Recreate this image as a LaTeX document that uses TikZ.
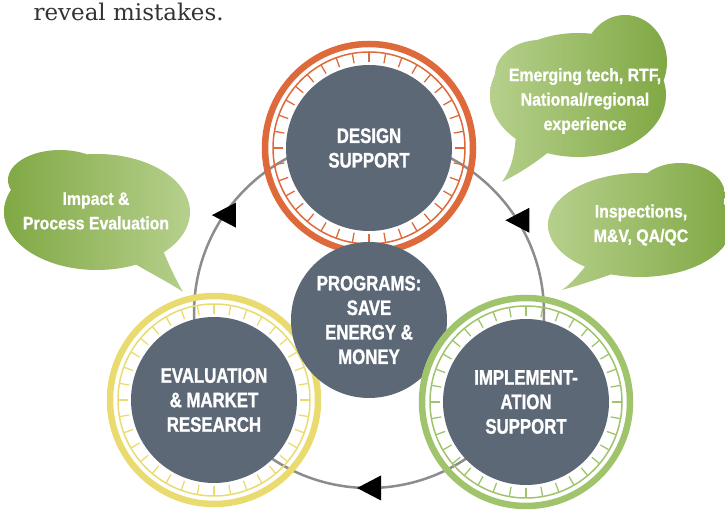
\documentclass[tikz,border=0pt]{standalone}
\usepackage{fontspec}
\newfontfamily\stagefont{Liberation Sans Bold}[FakeStretch=0.8, FakeBold=1.2]
\newfontfamily\leaffont{Liberation Sans Bold}[FakeStretch=0.88, FakeBold=1]
\newfontfamily\bodyfont{DejaVu Serif}

\definecolor{slate}{RGB}{92,104,118}
\definecolor{ringorange}{RGB}{222,106,60}
\definecolor{ringyellow}{RGB}{233,219,112}
\definecolor{ringgreen}{RGB}{160,196,108}
\definecolor{leafdark}{RGB}{128,168,68}
\definecolor{leaflight}{RGB}{182,208,140}
\definecolor{loopgray}{RGB}{140,140,140}

\tikzset{
	stage/.style={circle, fill=slate, text=white, align=center, inner sep=0pt,
		minimum size=166pt, font=\stagefont\fontsize{21}{24.5}\selectfont},
	leaftext/.style={text=white, align=center,
		font=\leaffont\fontsize{18}{24.5}\selectfont},
	loopline/.style={draw=loopgray, line width=2.5pt},
}

% ring of a stage: #1 centre, #2 colour
\newcommand{\stagering}[2]{
	\draw[#2, line width=6.5pt] (#1) circle[radius=104];
	\draw[#2, line width=1.5pt] (#1) circle[radius=96];
	\foreach \a in {0,10,...,350}
		\draw[#2, line width=1.3pt] ([shift={(\a:96)}]#1) -- ([shift={(\a:86)}]#1);
}
\newcommand{\looparrow}[1]{\fill (#1) ++(-12,0) -- ++(24,12.5) -- ++(0,-25) -- cycle;}

\begin{document}
\begin{tikzpicture}[x=1pt, y=1pt]
		\clip (0, 0) rectangle (725, 513);
		\coordinate (designc) at (369, 365);
		\coordinate (evalc) at (214, 113);
		\coordinate (implc) at (526, 111);
		\coordinate (progc) at (369, 193);
		\coordinate (cyc) at (369, 200);

		\node[anchor=base west, text=black!80, font=\bodyfont\fontsize{23}{27}\selectfont] (caption) at (30, 492) {reveal mistakes.};

		% speech bubbles
		\shade[left color=leafdark, right color=leaflight] (97, 301) ellipse[x radius=93, y radius=58]
			(60, 333) ellipse[x radius=52, y radius=30]
			(130, 252) .. controls (150, 240) and (170, 230) .. (183, 221) .. controls (175, 235) and (168, 250) .. (162, 265) -- cycle;
		\shade[left color=leaflight, right color=leafdark] (578, 418) ellipse[x radius=88, y radius=62]
			(625, 451) ellipse[x radius=42, y radius=47]
			(540, 438) ellipse[x radius=45, y radius=35]
			(516, 380) .. controls (515, 360) and (512, 345) .. (502, 331) .. controls (520, 340) and (535, 350) .. (550, 362) -- cycle;
		\shade[left color=leaflight, right color=leafdark] (640, 288) ellipse[x radius=92, y radius=52]
			(680, 318) ellipse[x radius=45, y radius=32]
			(588, 250) .. controls (580, 240) and (572, 230) .. (562, 223) .. controls (580, 228) and (598, 234) .. (615, 240) -- cycle;

		\draw[loopline] (cyc) circle[radius=175];

		\stagering{evalc}{ringyellow}
		\stagering{designc}{ringorange}
		\node[stage] (design) at (designc) {DESIGN\\SUPPORT};
		\node[stage] (eval) at (evalc) {EVALUATION\\\& MARKET\\RESEARCH};
		\node[stage, minimum size=156pt] (programs) at (progc) {PROGRAMS:\\SAVE\\ENERGY \&\\MONEY};

		\fill[white, even odd rule] (implc) circle[radius=107] circle[radius=84];
		\begin{scope}
			\clip (implc) circle[radius=107];
			\draw[loopline] (cyc) circle[radius=175];
		\end{scope}
		\stagering{implc}{ringgreen}
		\node[stage] (impl) at (implc) {IMPLEMENT-\\ATION\\SUPPORT};

		\coordinate (arrL) at ([shift={(146:175)}]cyc);
		\coordinate (arrR) at ([shift={(32:175)}]cyc);
		\coordinate (arrB) at ([shift={(270:175)}]cyc);
		\looparrow{arrL}
		\looparrow{arrR}
		\looparrow{arrB}

		\node[leaftext] (impact) at (96, 302) {Impact \&\\Process Evaluation};
		\node[leaftext] (emerging) at (585, 412) {Emerging tech, RTF,\\National/regional\\experience};
		\node[leaftext] (inspect) at (641, 288) {Inspections,\\M\&V, QA/QC};
	\end{tikzpicture}
\end{document}
